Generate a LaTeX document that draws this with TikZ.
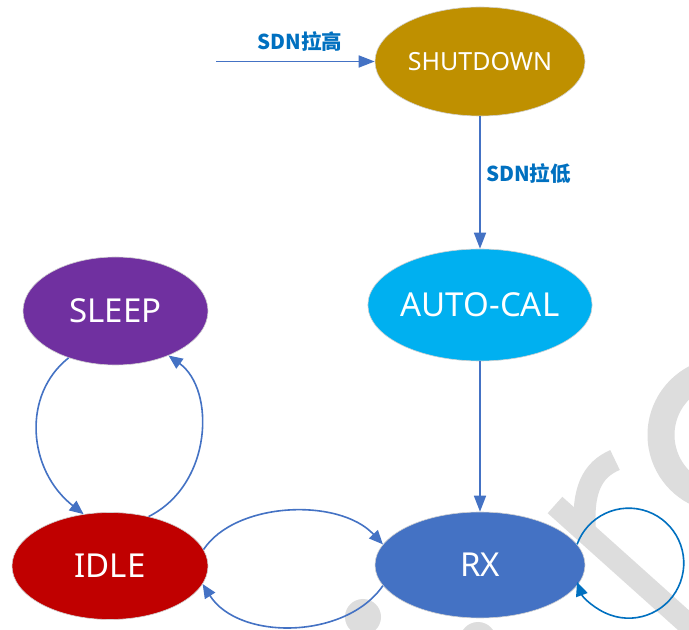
\documentclass[tikz,border=0pt]{standalone}
\usepackage{fontspec}
\newfontfamily\nodefont{Noto Sans}
\newfontfamily\cjk{Noto Sans CJK SC}
\usetikzlibrary{arrows.meta,shapes.geometric}
\definecolor{lineblue}{HTML}{4472C4}
\definecolor{loopblue}{HTML}{0070C0}
\definecolor{labelblue}{HTML}{0070C0}
\definecolor{cshut}{HTML}{BF9000}
\definecolor{cauto}{HTML}{00B0F0}
\definecolor{csleep}{HTML}{7030A0}
\definecolor{cidle}{HTML}{C00000}
\definecolor{crx}{HTML}{4472C4}
\definecolor{wm}{HTML}{DDDDDD}
\begin{document}
\begin{tikzpicture}[x=1pt,y=1pt,
 state/.style={ellipse, draw=black!18, line width=0.6pt, inner sep=0pt, text=white,
   font=\nodefont\fontsize{33}{36}\selectfont},
 conn/.style={draw=lineblue, line width=1.6pt, -{Triangle[length=16pt,width=12pt]}},
 cconn/.style={draw=lineblue, line width=1.6pt, -{Triangle[length=14pt,width=12pt]}},
 loopconn/.style={draw=loopblue, line width=1.6pt, -{Triangle[length=14pt,width=12pt]}},
 lab/.style={text=labelblue, font=\cjk\bfseries\fontsize{20.5}{24}\selectfont, inner sep=0pt},
 wmark/.style={draw=wm, line width=22pt}]
\useasboundingbox (0,0) rectangle (689,630);
\fill[white] (0,0) rectangle (689,630);
% watermark
\begin{scope}
\clip (0,0) rectangle (689,630);
\draw[wmark] (555,125) -- (700,-5);
\draw[wmark] (585,98) .. controls (582,140) and (592,160) .. (615,170);
\draw[wm, line width=27pt] (725,195) ++(100:64) arc[start angle=100,end angle=260,radius=64];
\fill[wm] (363,13) circle (18);
\fill[wm] (478,-10) circle (18);
\end{scope}
% states
\node[state, fill=cshut, minimum width=210pt, minimum height=109pt,
      font=\nodefont\fontsize{25}{30}\selectfont] (shut) at (480,568.5) {SHUTDOWN};
\node[state, fill=cauto, minimum width=210pt, minimum height=112pt] (auto) at (480,325) {AUTO-CAL};
\node[state, fill=csleep, minimum width=185pt, minimum height=108pt] (sleep) at (115.5,319) {SLEEP};
\node[state, fill=cidle, minimum width=196pt, minimum height=107pt] (idle) at (110,64) {IDLE};
\node[state, fill=crx, minimum width=210pt, minimum height=106pt] (rx) at (480,65) {RX};
% connectors
\coordinate (start) at (216,568.5);
\draw[conn] (start) -- (shut);
\node[lab] (l1) at (300,588) {SDN拉高};
\draw[conn] (shut) -- (auto);
\node[lab, anchor=west] (l2) at (486,456) {SDN拉低};
\draw[conn] (auto) -- (rx);
\draw[cconn] (sleep.225) .. controls +(-47,-37) and +(-56,44) .. (idle.117);
\draw[cconn] (idle.52) .. controls +(64,32) and +(47,-34) .. (sleep.320);
\draw[cconn] (idle.10) .. controls +(32,48) and +(-44,47) .. (rx.168);
\draw[cconn] (rx.192) .. controls +(-37,-54) and +(36,-57) .. (idle.349);
\draw[loopconn] (rx.12) arc[start angle=160, end angle=-160, radius=55];
\end{tikzpicture}
\end{document}
